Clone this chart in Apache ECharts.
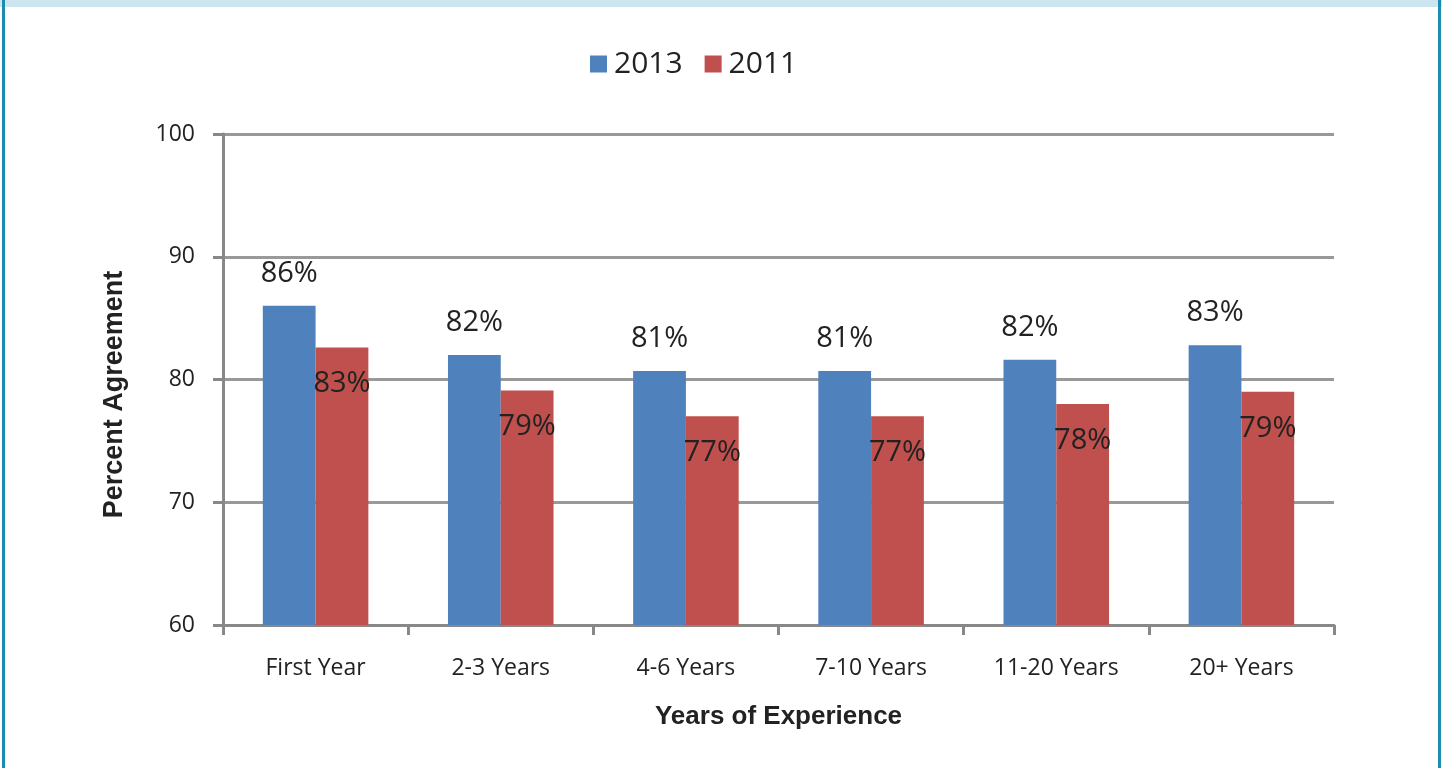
<!DOCTYPE html>
<html><head><meta charset="utf-8">
<script src="https://cdn.jsdelivr.net/npm/echarts@6/dist/echarts.min.js"></script>
<style>html,body{margin:0;padding:0;background:#fff}#c{width:1442px;height:768px}</style>
</head><body><div id="c"></div>
<script>
const categories = ['First Year', '2-3 Years', '4-6 Years', '7-10 Years', '11-20 Years', '20+ Years'];
const series2013 = [86.0, 82.0, 80.7, 80.7, 81.6, 82.8];
const series2011 = [82.6, 79.1, 77.0, 77.0, 78.0, 79.0];
const yTicks = [60, 70, 80, 90, 100];

const chart = echarts.init(document.getElementById('c'));
const font = 'Open Sans, sans-serif';
const fmt = p => Math.round(p.value) + '%';
chart.setOption({
  animation: false,
  graphic: [
    {type: 'rect', shape: {x: 0, y: 0, width: 1442, height: 7}, style: {fill: '#cde5ee'}, z: -1},
    {type: 'rect', shape: {x: 2, y: 0, width: 3, height: 768}, style: {fill: '#1a8db0'}},
    {type: 'rect', shape: {x: 1438, y: 0, width: 3, height: 768}, style: {fill: '#1a8db0'}}
  ],
  legend: {
    top: 44, left: 585, itemWidth: 17, itemHeight: 17, itemGap: 22, icon: 'rect',
    textStyle: {fontSize: 30, fontFamily: font, color: '#222', padding: [0, 0, 0, 2]},
    data: ['2013', '2011']
  },
  grid: {left: 223, right: 108, top: 134, bottom: 143},
  xAxis: {
    type: 'category', data: categories,
    name: 'Years of Experience', nameLocation: 'middle', nameGap: 79,
    nameTextStyle: {fontSize: 26, fontWeight: 'bold', fontFamily: 'Liberation Sans, Arial, sans-serif', color: '#222'},
    axisLine: {lineStyle: {color: '#888', width: 3}},
    axisTick: {show: true, length: 10, lineStyle: {color: '#888', width: 3}},
    axisLabel: {fontSize: 23, fontFamily: font, color: '#222', margin: 32}
  },
  yAxis: {
    type: 'value', min: 60, max: 100, interval: 10,
    name: 'Percent Agreement', nameLocation: 'middle', nameGap: 95, nameRotate: 90,
    nameTextStyle: {fontSize: 27, fontWeight: 'bold', fontFamily: 'Liberation Sans, Arial, sans-serif', color: '#222', padding: [0, 30, 0, 0]},
    axisLine: {show: true, lineStyle: {color: '#888', width: 3}},
    axisTick: {show: true, length: 10, lineStyle: {color: '#888', width: 3}},
    splitLine: {lineStyle: {color: '#999', width: 3}},
    axisLabel: {fontSize: 23, fontFamily: font, color: '#222', margin: 28,
      formatter: v => yTicks.includes(v) ? String(v) : ''}
  },
  series: [
    {name: '2013', type: 'bar', data: series2013, barGap: '0%', barCategoryGap: '43%',
      itemStyle: {color: '#4f81bd'},
      label: {show: true, position: 'top', distance: 18, formatter: fmt, fontSize: 29, fontFamily: font, color: '#222'}},
    {name: '2011', type: 'bar', data: series2011,
      itemStyle: {color: '#c0504d'},
      label: {show: true, position: 'insideTop', distance: 22, formatter: fmt, fontSize: 29, fontFamily: font, color: '#222'}}
  ]
});
</script></body></html>
